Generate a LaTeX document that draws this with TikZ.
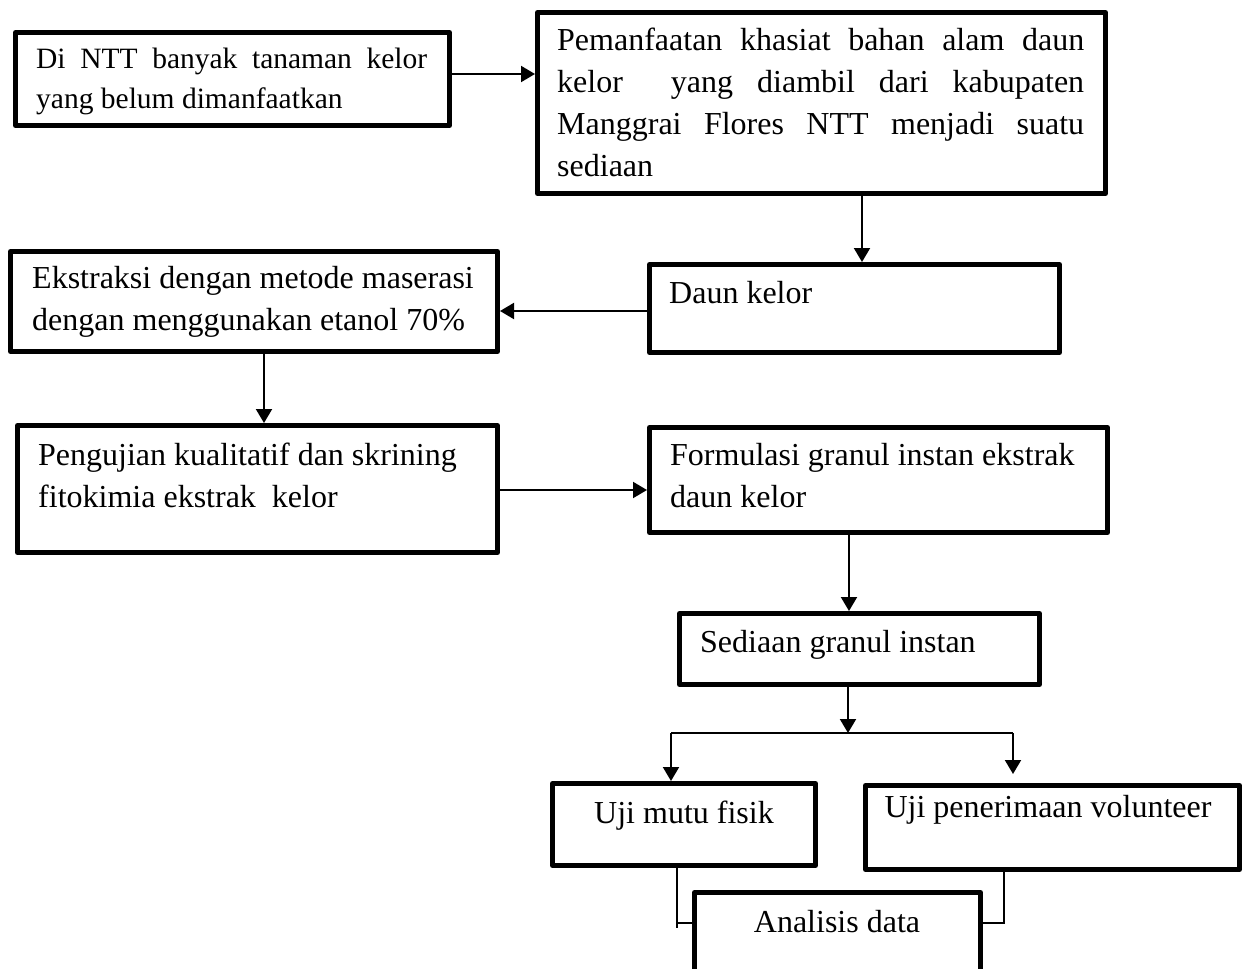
\documentclass[tikz,border=0pt]{standalone}
\usepackage{fontspec}
\setmainfont{Liberation Serif}
\usetikzlibrary{arrows.meta}
\begin{document}
\begin{tikzpicture}[x=1pt,y=-1pt,
  box/.style={draw, line width=5pt, inner sep=0pt, line join=round},
  arr/.style={line width=2pt, -{Triangle[length=14pt,width=16pt]}},
  con/.style={line width=1.5pt, line join=miter},
  txt/.style={inner sep=0pt, font=\fontsize{32}{42}\selectfont, align=left},
  txts/.style={inner sep=0pt, font=\fontsize{29.5}{40}\selectfont, align=left}]
\useasboundingbox (0,0) rectangle (1251,969);
\fill[white] (0,0) rectangle (1251,969);
\clip (0,0) rectangle (1251,969);
% boxes
\node[box, minimum width=434pt, minimum height=93pt] (n1) at (232.5,79) {};
\node[box, minimum width=568pt, minimum height=181pt] (n2) at (821.5,103) {};
\node[box, minimum width=410pt, minimum height=88pt] (n3) at (854.5,308.5) {};
\node[box, minimum width=487pt, minimum height=100pt] (n4) at (254,301.5) {};
\node[box, minimum width=480pt, minimum height=127pt] (n5) at (257.5,489) {};
\node[box, minimum width=458pt, minimum height=105pt] (n6) at (878.5,480) {};
\node[box, minimum width=360pt, minimum height=71pt] (n7) at (859.5,649) {};
\node[box, minimum width=263pt, minimum height=82pt] (n8) at (684,824.5) {};
\node[box, minimum width=374pt, minimum height=84pt] (n9) at (1052.5,827.5) {};
\node[box, minimum width=286pt, minimum height=115pt] (n10) at (837.5,950) {};
% texts
\node[txts, anchor=north west] (t1) at (36,40)
  {\strut\makebox[391pt][s]{Di NTT banyak tanaman kelor}\\\strut yang belum dimanfaatkan};
\node[txt, anchor=north west] (t2) at (557,20.6)
  {\strut\makebox[527pt][s]{Pemanfaatan khasiat bahan alam daun}\\
   \strut\makebox[527pt][s]{kelor\ \ yang diambil dari kabupaten}\\
   \strut\makebox[527pt][s]{Manggrai Flores NTT menjadi suatu}\\
   \strut sediaan};
\node[txt, anchor=base west] (t3) at (669,303) {Daun kelor};
\node[txt, anchor=north west] (t4) at (32,258.6)
  {\strut Ekstraksi dengan metode maserasi\\\strut dengan menggunakan etanol 70\%};
\node[txt, anchor=north west] (t5) at (38,435.6)
  {\strut Pengujian kualitatif dan skrining\\\strut fitokimia ekstrak\ \ kelor};
\node[txt, anchor=north west] (t6) at (670,435.6)
  {\strut Formulasi granul instan ekstrak\\\strut daun kelor};
\node[txt, anchor=base west] (t7) at (700,652) {Sediaan granul instan};
\node[txt, anchor=base] (t8) at (684,823) {Uji mutu fisik};
\node[txt, anchor=base] (t9) at (1048,817) {Uji penerimaan volunteer};
\node[txt, anchor=base] (t10) at (837,932) {Analisis data};
% connectors
\coordinate (j) at (848,733);
\coordinate (jl) at (671,733);
\coordinate (jr) at (1013,733);
\coordinate (ml) at (677,923);
\coordinate (mlb) at (677,928);
\coordinate (mr) at (1004,923);
\draw[arr] (n1.east |- 0,74) -- (n2.west |- 0,74);
\draw[arr] (n2.south -| 862,0) -- (n3.north -| 862,0);
\draw[arr] (n3.west |- 0,311) -- (n4.east |- 0,311);
\draw[arr] (n4.south -| 264,0) -- (n5.north -| 264,0);
\draw[arr] (n5.east |- 0,490) -- (n6.west |- 0,490);
\draw[arr] (n6.south -| 849,0) -- (n7.north -| 849,0);
\draw[arr] (n7.south -| j) -- (j);
\draw[line width=2pt] (jl) -- (jr);
\draw[arr] (jl) -- (n8.north -| jl);
\draw[arr, shorten >=9pt] (jr) -- (n9.north -| jr);
\draw[con] (n8.south -| ml) -- (mlb);
\draw[con] (ml) -- (n10.west |- ml);
\draw[con] (n9.south -| mr) -- (mr) -- (n10.east |- mr);
\end{tikzpicture}
\end{document}
